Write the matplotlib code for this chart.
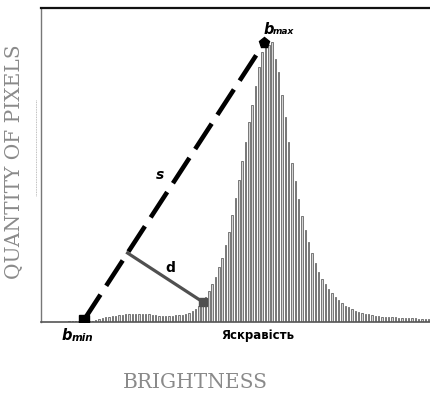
import numpy as np
from matplotlib import pyplot as plt

# histogram bar heights (pixel-ish units)
counts = [1.5, 1.5, 1.5, 1.5, 1.5, 1.5, 1.5, 1.5, 2.5, 3.5,
          4, 5, 5.5, 6, 6.5, 7, 7.5, 8, 8, 8.5,
          8.5, 8.5, 8.5, 8, 8, 7.5, 7, 6.5, 6.5, 6.5,
          6.5, 6.5, 7, 7, 7.5, 8.5, 9.5, 11, 13, 16,
          20, 25, 31, 38, 45, 55, 64, 77, 90, 107,
          124, 142, 161, 180, 200, 217, 236, 255, 270, 277,
          277, 280, 263, 250, 227, 205, 180, 159, 141, 123,
          106, 92, 80, 69, 59, 50, 43, 38, 33, 29,
          25, 22, 19, 16.5, 15, 13, 11.5, 10, 9, 8.5,
          8, 7, 6.5, 6, 5.5, 5.5, 5, 5, 5, 4.5,
          4.5, 4.5, 4, 4, 4, 3.5, 3.5, 3.5, 3]
bins = np.arange(len(counts))

# marked points: (bin, count)
b_min = (4.5, 2)
b_max = (58.6, 279)
d_end = (40.2, 20)

fig = plt.figure(figsize=(4.31, 3.96), dpi=100)
ax = fig.add_axes([41 / 431, 74 / 396, 1 - 41 / 431, 314 / 396])
ax.set_xlim(-8.4, 108.7)
ax.set_ylim(0, 314)

ax.bar(bins, counts, width=0.42, color='#d4d4d4', edgecolor='#4a4a4a', linewidth=0.5, zorder=2)

# s line
ax.plot([b_min[0], b_max[0]], [b_min[1], b_max[1]], color='black', lw=3.3,
        dashes=(6.6, 2.3), solid_capstyle='butt', dash_capstyle='butt', zorder=4)
ax.plot(*b_min, marker='s', ms=6.5, color='black', zorder=5)
ax.plot(*b_max, marker='p', ms=8, color='black', zorder=5)

# d: perpendicular from d_end to s, worked out in display space
tr = ax.transData
p0 = tr.transform(b_min)
p1 = tr.transform(b_max)
q = tr.transform(d_end)
u = (p1 - p0) / np.linalg.norm(p1 - p0)
foot = p0 + np.dot(q - p0, u) * u
foot = tr.inverted().transform(foot)
ax.plot([foot[0], d_end[0]], [foot[1], d_end[1]], color='#505050', lw=2.3, zorder=3)
ax.plot(*d_end, marker='s', ms=6, color='#505050', zorder=5)

ax.text(27.3, 147, 's', fontsize=10, fontweight='bold', style='italic', ha='center', va='center')
ax.text(30.3, 54, 'd', fontsize=10, fontweight='bold', ha='center', va='center')

ax.text(58.3, 293, 'b', fontsize=10.5, fontweight='bold', style='italic', ha='left', va='center')
ax.text(61.2, 291, 'max', fontsize=6.5, fontweight='bold', style='italic', ha='left', va='center')
ax.text(-2.1, -14, 'b', fontsize=10.5, fontweight='bold', style='italic', ha='left', va='center')
ax.text(0.9, -16, 'min', fontsize=7.5, fontweight='bold', style='italic', ha='left', va='center')
ax.text(56.6, -14, 'Яскравість', fontsize=8.5, fontweight='bold', ha='center', va='center')

ax.spines['right'].set_visible(False)
ax.spines['top'].set_color('#111111')
ax.spines['top'].set_linewidth(1.6)
ax.spines['left'].set_color('#777777')
ax.spines['bottom'].set_color('#555555')
ax.spines['left'].set_linewidth(1.0)
ax.spines['bottom'].set_linewidth(1.2)
ax.set_xticks([])
ax.set_yticks([])

fig.text(195 / 431, 1 - 383 / 396, 'BRIGHTNESS', family='DejaVu Serif', fontsize=14.5,
         color='#8a8a8a', ha='center', va='center')
fig.text(15 / 431, 1 - 162 / 396, 'QUANTITY OF PIXELS', family='DejaVu Serif', fontsize=14.5,
         color='#8a8a8a', ha='center', va='center', rotation=90)
fig.lines.append(plt.Line2D([36 / 431, 36 / 431], [1 - 100 / 396, 1 - 196 / 396],
                            transform=fig.transFigure, color='#aaaaaa', lw=0.6, ls=(0, (1, 1))))

fig.savefig('out.png', dpi=100)
